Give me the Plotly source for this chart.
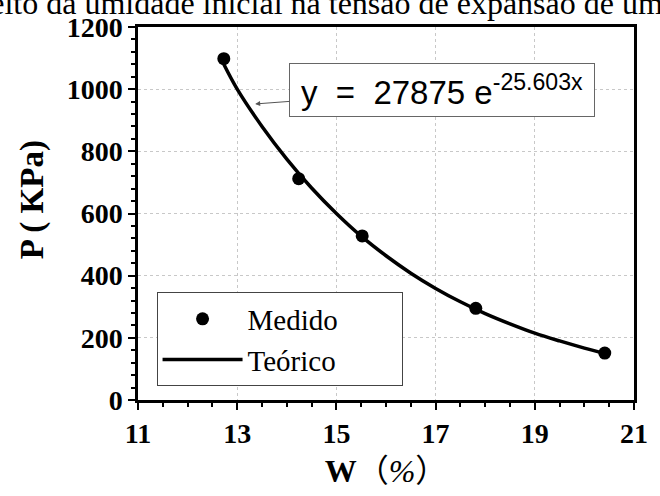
import plotly.graph_objects as go

# Measured data
w_measured = [12.73, 14.24, 15.52, 17.81, 20.41]
p_measured = [1098, 712, 528, 295, 151]

# Theoretical curve
w_theory = [12.73, 13.0, 13.5, 14.0, 14.5, 15.0, 15.5, 16.0, 16.5, 17.0, 17.5, 18.0, 18.5, 19.0, 19.5, 20.0, 20.41]
p_theory = [1080, 1000, 880, 775, 682, 600, 527, 464, 408, 359, 316, 278, 245, 215, 190, 167, 150]

x_ticks = [11, 13, 15, 17, 19, 21]
y_ticks = [0, 200, 400, 600, 800, 1000, 1200]

series_names = ["Medido", "Teórico"]
title_text = "Efeito da umidade inicial na tensão de expansão de um solo"
equation_text = "y  =  27875 e<sup>-25.603x</sup>"
y_title = "<b>P ( KPa)</b>"
x_title = "<b>W</b>（<i>%</i>）"

SERIF = "Liberation Serif, Times New Roman, serif"
SANS = "Liberation Sans, Arial, sans-serif"
PAD = "\u00a0" * 8  # widen the legend box like the reference

fig = go.Figure()
fig.add_trace(go.Scatter(
    x=w_measured, y=p_measured, mode="markers", name=series_names[0] + PAD,
    marker=dict(color="black", size=13, symbol="circle"),
))
fig.add_trace(go.Scatter(
    x=w_theory, y=p_theory, mode="lines", name=series_names[1] + PAD,
    line=dict(color="black", width=3.5, shape="spline"),
))

L, R, T, B = 138, 14, 25, 93
W, H = 660, 496
pw = W - L - R
ph = H - T - B

def px_to_paper_x(px):
    return (px - L) / pw

def px_to_paper_y(py):
    return (H - B - py) / ph

axis_common = dict(
    showline=True, linecolor="black", linewidth=2.5, mirror=True,
    ticks="outside", ticklen=7, tickwidth=2, tickcolor="black",
    showgrid=True, gridcolor="#c8c8c8", griddash="dot", gridwidth=1,
    zeroline=False,
    tickfont=dict(family=SERIF, size=28, color="black", weight="bold"),
)

fig.update_layout(
    width=W, height=H,
    margin=dict(l=L, r=R, t=T, b=B),
    paper_bgcolor="white", plot_bgcolor="white",
    showlegend=True,
    legend=dict(
        x=px_to_paper_x(157), y=px_to_paper_y(294), xanchor="left", yanchor="top",
        bordercolor="#444444", borderwidth=1, bgcolor="white",
        font=dict(family=SERIF, size=29, color="black"),
        itemwidth=80, tracegroupgap=0,
    ),
    xaxis=dict(
        range=[11, 21], tickvals=x_ticks, ticktext=[str(v) for v in x_ticks],
        minor=dict(dtick=0.5, ticklen=4, tickwidth=1.5, tickcolor="black", ticks="outside", showgrid=False),
        title=dict(text=x_title, font=dict(family=SERIF + ", Noto Sans CJK SC", size=32, color="black"), standoff=12),
        **axis_common,
    ),
    yaxis=dict(
        range=[0, 1200], tickvals=y_ticks, ticktext=[str(v) for v in y_ticks],
        minor=dict(dtick=40, ticklen=4, tickwidth=1.5, tickcolor="black", ticks="outside", showgrid=False),
        **axis_common,
    ),
)

# Y axis title (placed slightly above the plot centre, as in the reference)
fig.add_annotation(
    xref="paper", yref="paper",
    x=px_to_paper_x(30), y=px_to_paper_y(200), xanchor="center", yanchor="middle",
    text=y_title, textangle=-90, showarrow=False,
    font=dict(family=SERIF, size=33, color="black"),
)

# Cropped title at the top of the page
fig.add_annotation(
    xref="paper", yref="paper",
    x=px_to_paper_x(-46), y=px_to_paper_y(1), xanchor="left", yanchor="middle",
    text=title_text, showarrow=False,
    font=dict(family=SERIF, size=32, color="black"),
)

# Equation box with arrow to the curve
tip_x = 11 + (258 - L) / (pw / 10)
tip_y = (H - B - 103) / (ph / 1200)
fig.add_annotation(
    x=tip_x, y=tip_y, xref="x", yref="y",
    text=equation_text, showarrow=True, align="center",
    ax=445 - 258, ay=89 - 103, axref="pixel", ayref="pixel",
    arrowhead=2, arrowsize=1, arrowwidth=1, arrowcolor="#555555",
    bordercolor="#666666", borderwidth=1, borderpad=2, bgcolor="white",
    width=300, height=48,
    font=dict(family=SANS, size=33, color="black"),
)

fig.write_html("out.html")
